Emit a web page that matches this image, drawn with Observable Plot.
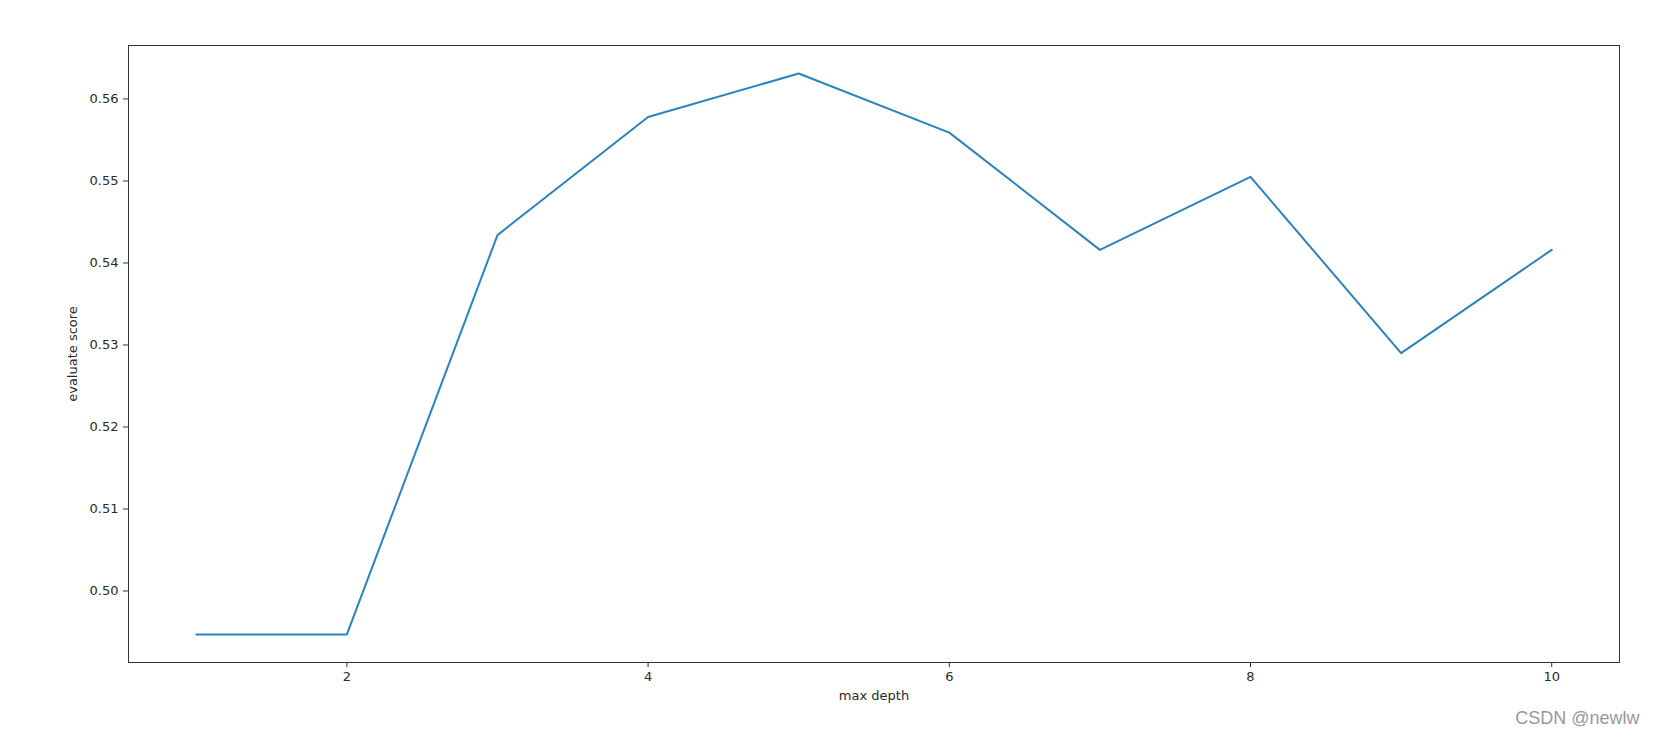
<!DOCTYPE html>
<html>
<head>
<meta charset="utf-8">
<script src="https://cdn.jsdelivr.net/npm/d3@7"></script>
<script src="https://cdn.jsdelivr.net/npm/@observablehq/plot@0.6"></script>
<style>
  html, body { margin: 0; padding: 0; background: #fff; }
  #chart { width: 1655px; height: 735px; }
</style>
</head>
<body>
<div id="chart"></div>
<script>
const depths = [1, 2, 3, 4, 5, 6, 7, 8, 9, 10];
const scores = [0.4947, 0.4947, 0.5434, 0.5578, 0.5631, 0.5559, 0.5416, 0.5505, 0.5290, 0.5416];
const xTicks = [2, 4, 6, 8, 10];
const yTicks = [0.50, 0.51, 0.52, 0.53, 0.54, 0.55, 0.56];
const xLabel = "max depth";
const yLabel = "evaluate score";
const watermark = "CSDN @newlw";

const data = depths.map((d, i) => ({depth: d, score: scores[i]}));
const font = "DejaVu Sans, sans-serif";

const chart = Plot.plot({
  width: 1655,
  height: 735,
  marginLeft: 128,
  marginRight: 36,
  marginTop: 45,
  marginBottom: 73,
  style: {fontFamily: font, fontSize: "13px", color: "#2a2a2a", background: "#fff"},
  x: {domain: [0.55, 10.45]},
  y: {domain: [0.49128, 0.56652]},
  marks: [
    Plot.frame({stroke: "#333", strokeWidth: 1}),
    Plot.axisX({ticks: xTicks, tickSize: 5, tickPadding: 4, tickFormat: d => String(d), label: null, fontSize: 13, stroke: "#333"}),
    Plot.axisY({ticks: yTicks, tickSize: 5, tickPadding: 5, tickFormat: d3.format(".2f"), label: null, fontSize: 13, stroke: "#333"}),
    Plot.line(data, {x: "depth", y: "score", stroke: "#2a83c0", strokeWidth: 2}),
    Plot.text([xLabel], {frameAnchor: "bottom", dy: 33, text: d => d, fontSize: 13, textAnchor: "middle", lineAnchor: "middle", fill: "#2a2a2a"}),
    Plot.text([yLabel], {frameAnchor: "left", dx: -56, rotate: -90, text: d => d, fontSize: 13, textAnchor: "middle", lineAnchor: "middle", fill: "#2a2a2a"}),
    Plot.text([watermark], {frameAnchor: "bottom-right", dx: 20, dy: 56, text: d => d, textAnchor: "end", lineAnchor: "middle", fontSize: 18, fontFamily: "Liberation Sans, Arial, sans-serif", fill: "#999"})
  ]
});
document.getElementById("chart").appendChild(chart);
</script>
</body>
</html>
